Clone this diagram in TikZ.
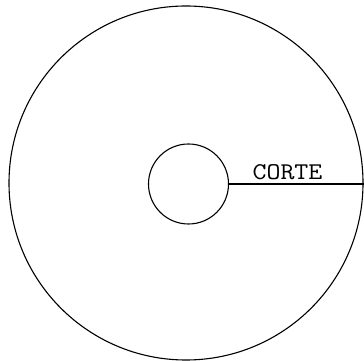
\documentclass[tikz,border=0pt]{standalone}
\usetikzlibrary{positioning}

\begin{document}
\begin{tikzpicture}[
  x=1pt, y=1pt,
  disc/.style={draw, circle, inner sep=0pt, line width=1.1pt},
  cut/.style={line width=1.3pt},
  lbl/.style={font=\ttfamily\fontsize{24}{26}\selectfont, anchor=base, inner sep=0pt,
    xscale=1.13, transform shape}
]
\useasboundingbox (0,0) rectangle (364,361);

\node[disc, minimum size=354pt] (disco) at (186,178) {};
\node[disc, minimum size=80pt] (eje) at (188.5,177) {};

\coordinate (borde) at (eje.east -| disco.east);
\draw[cut] (eje.east) -- (borde);
\node[lbl] (corte) at (287.5,181) {CORTE};

\end{tikzpicture}
\end{document}
